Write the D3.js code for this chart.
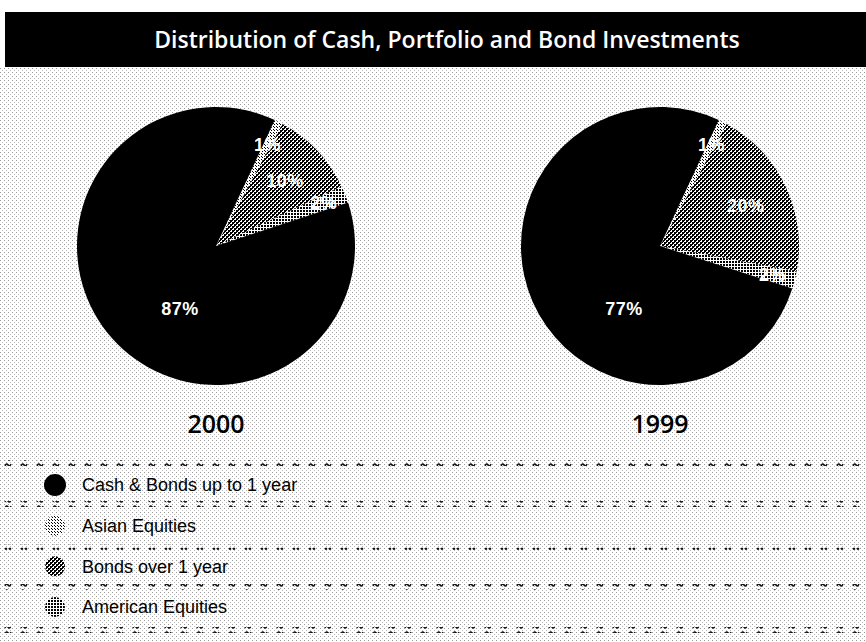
<!DOCTYPE html>
<html lang="en">
<head>
    <meta charset="UTF-8">
    <title>Distribution of Cash, Portfolio and Bond Investments</title>
    <style>
        body {
            margin: 0;
            background: #fff;
        }
        svg {
            display: block;
        }
    </style>
</head>
<body>

<div id="chart"></div>

<script src="https://d3js.org/d3.v7.min.js"></script>
<script>
    // ---- data ----
    const title = "Distribution of Cash, Portfolio and Bond Investments";
    const categories = ["Cash & Bonds up to 1 year", "Asian Equities", "Bonds over 1 year", "American Equities"];
    const years = ["2000", "1999"];
    const values2000 = [87, 1, 10, 2];
    const values1999 = [77, 1, 20, 2];
    // order the slices are laid out clockwise
    const sliceOrder = [1, 2, 3, 0];

    const width = 866, height = 642;

    const svg = d3.select("#chart").append("svg")
        .attr("width", width)
        .attr("height", height);

    const defs = svg.append("defs");

    // small helper for the pixel patterns
    function pattern(id, size, bgColor, pixels, color) {
        const p = defs.append("pattern").attr("id", id)
            .attr("width", size).attr("height", size)
            .attr("patternUnits", "userSpaceOnUse");
        p.append("rect").attr("width", size).attr("height", size).attr("fill", bgColor);
        pixels.forEach(([x, y, w, h]) =>
            p.append("rect").attr("x", x).attr("y", y)
                .attr("width", w || 1).attr("height", h || 1)
                .attr("fill", color));
        return p;
    }

    // background dots
    pattern("bg", 4, "#fff", [[0, 0]], "#999");
    defs.select("#bg").append("rect").attr("x", 2).attr("y", 2)
        .attr("width", 1).attr("height", 1).attr("fill", "#bbb");

    pattern("p-asian", 3, "#fff", [[0, 0], [1, 1]], "#000");
    pattern("p-bonds", 4, "#fff", [[0, 0, 2, 2], [2, 2, 2, 2], [2, 0], [0, 2]], "#000");
    pattern("p-amer", 3, "#fff", [[0, 0, 2, 2]], "#000");

    // wavy separator glyphs
    const wave = defs.append("pattern").attr("id", "wave")
        .attr("width", 16).attr("height", 6).attr("patternUnits", "userSpaceOnUse");
    wave.append("path")
        .attr("d", "M5,4 C6,1.5 7,1.5 8,3 S10,4.5 11,2")
        .attr("fill", "none").attr("stroke", "#111").attr("stroke-width", 1.5);
    const dots = defs.append("pattern").attr("id", "dotsep")
        .attr("width", 16).attr("height", 6).attr("patternUnits", "userSpaceOnUse");
    dots.append("path")
        .attr("d", "M5,2 L7,4 M7,2 L5,4 M9,2 L11,4 M11,2 L9,4")
        .attr("fill", "none").attr("stroke", "#111").attr("stroke-width", 1.2);

    const fills = ["#000", "url(#p-asian)", "url(#p-bonds)", "url(#p-amer)"];

    // background
    svg.append("rect")
        .attr("x", 0).attr("y", 67)
        .attr("width", width).attr("height", height - 67)
        .attr("fill", "url(#bg)");

    // title bar
    svg.append("rect")
        .attr("x", 5).attr("y", 12)
        .attr("width", width - 5).attr("height", 55)
        .attr("fill", "#000");
    svg.append("text")
        .attr("x", 447).attr("y", 40)
        .attr("dy", "0.35em")
        .attr("text-anchor", "middle")
        .attr("fill", "#fff")
        .style("font-family", "'Open Sans', 'Noto Sans', sans-serif")
        .style("font-size", "23px")
        .style("font-weight", 600)
        .text(title);

    // ---- pies ----
    const radius = 139;
    const startAngle = 25 * Math.PI / 180;
    const pieX = d3.scalePoint().domain(years).range([216, 660]);
    const pieY = 246;

    const pie = d3.pie()
        .sort(null)
        .value(i => i.v)
        .startAngle(startAngle)
        .endAngle(startAngle + 2 * Math.PI);

    const arc = d3.arc().innerRadius(0).outerRadius(radius);
    const labelRadius = [72, 114, 95, 116];

    [values2000, values1999].forEach((vals, k) => {
        const g = svg.append("g")
            .attr("transform", `translate(${pieX(years[k])}, ${pieY})`);

        const arcs = pie(sliceOrder.map(i => ({ i, v: vals[i] })));

        g.selectAll("path")
            .data(arcs)
            .join("path")
            .attr("d", arc)
            .attr("fill", d => fills[d.data.i]);

        g.selectAll("text")
            .data(arcs)
            .join("text")
            .attr("transform", d => {
                let a = (d.startAngle + d.endAngle) / 2;
                if (d.data.i === 0) a = 210 * Math.PI / 180;
                const r = labelRadius[d.data.i];
                return `translate(${r * Math.sin(a)}, ${-r * Math.cos(a)})`;
            })
            .attr("dy", "0.35em")
            .attr("text-anchor", "middle")
            .attr("fill", "#fff")
            .style("font-family", "'Liberation Sans', Arial, sans-serif")
            .style("font-size", "18px")
            .style("font-weight", "bold")
            .style("letter-spacing", "0.5px")
            .text(d => d.data.v + "%");

        svg.append("text")
            .attr("x", pieX(years[k]))
            .attr("y", 424)
            .attr("dy", "0.35em")
            .attr("text-anchor", "middle")
            .attr("fill", "#000")
            .style("font-family", "'Open Sans', 'Noto Sans', sans-serif")
            .style("font-size", "25px")
            .style("font-weight", 600)
            .text(years[k]);
    });

    // ---- legend ----
    const sepY = [463, 504, 547, 587, 630];
    sepY.forEach((y, i) => {
        svg.append("rect")
            .attr("x", 0).attr("y", y - 3)
            .attr("width", width).attr("height", 6)
            .attr("fill", i === 2 ? "url(#dotsep)" : "url(#wave)");
    });

    const rowY = d3.scalePoint().domain(categories).range([485, 607]);
    const legend = svg.append("g");
    categories.forEach((c, i) => {
        legend.append("circle")
            .attr("cx", 55).attr("cy", rowY(c))
            .attr("r", i === 0 ? 11 : 10)
            .attr("fill", fills[i]);
        legend.append("text")
            .attr("x", 82).attr("y", rowY(c))
            .attr("dy", "0.35em")
            .attr("fill", "#000")
            .style("font-family", "'Liberation Sans', Arial, sans-serif")
            .style("font-size", "18px")
            .text(c);
    });
</script>
</body>
</html>
